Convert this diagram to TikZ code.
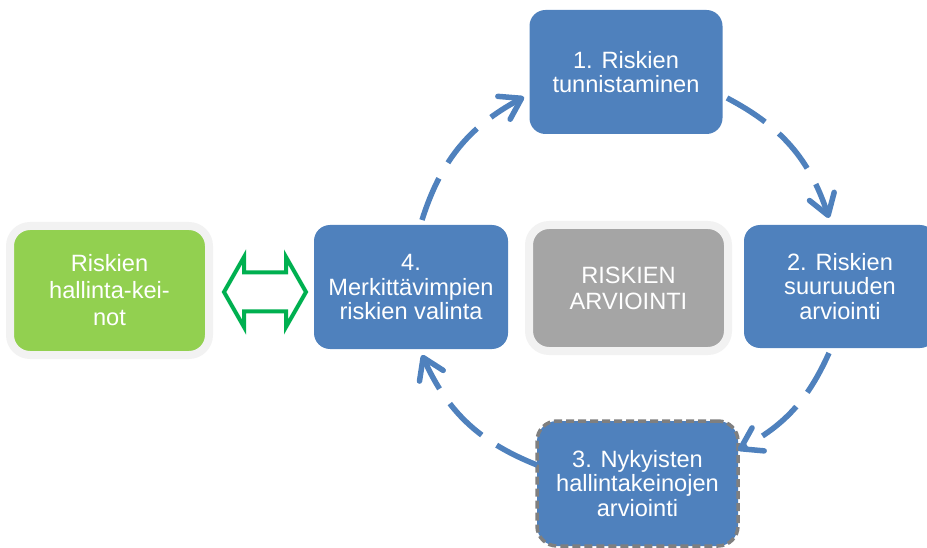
\documentclass[tikz,border=0pt]{standalone}
\usepackage{fontspec}
\setmainfont{Liberation Sans}
\usetikzlibrary{arrows.meta,calc}
\definecolor{boxblue}{HTML}{4F81BD}
\definecolor{boxgray}{HTML}{A5A5A5}
\definecolor{framegray}{HTML}{F2F2F2}
\definecolor{dashgray}{HTML}{7F7F7F}
\definecolor{boxgreen}{HTML}{92D050}
\definecolor{arrowgreen}{HTML}{00B050}
\tikzset{
  stepbox/.style={rectangle, rounded corners=16pt, fill=boxblue, text=white,
    align=center, inner sep=0pt, font=\fontsize{23.6}{24.5}\selectfont},
  framedbox/.style={rectangle, rounded corners=20pt, draw=framegray, line width=8pt,
    align=center, inner sep=0pt, minimum width=199pt},
  cyclearrow/.style={draw=boxblue, line width=5.5pt, dash pattern=on 45pt off 18pt,
    -{Straight Barb[length=20pt,width=26pt,round]}},
}
\begin{document}
\begin{tikzpicture}[x=1pt,y=1pt]
\useasboundingbox (0,0) rectangle (927,-548);
% boxes
\node[stepbox, minimum width=193pt, minimum height=124pt] (b1) at (626,-72) {1. Riskien\\tunnistaminen};
\node[stepbox, minimum width=192pt, minimum height=123pt] (b2) at (840,-286.5) {2. Riskien\\suuruuden\\arviointi};
\node[stepbox, rounded corners=20pt, minimum width=201pt, minimum height=125pt,
      draw=dashgray, line width=3.5pt, dash pattern=on 8pt off 4pt] (b3) at (637.5,-483.5) {3. Nykyisten\\hallintakeinojen\\arviointi};
\node[stepbox, minimum width=194pt, minimum height=124pt] (b4) at (411,-287) {4.\\Merkittävimpien\\riskien valinta};
\node[framedbox, fill=boxgray, text=white, minimum height=126pt,
      font=\fontsize{23.6}{26}\selectfont] (center) at (628.5,-288) {RISKIEN\\ARVIOINTI};
\node[framedbox, fill=boxgreen, text=white, minimum height=129pt,
      font=\fontsize{23.6}{27}\selectfont] (green) at (109.5,-290.5) {Riskien\\hallinta-kei-\\not};
% double arrow between green box and step 4
\coordinate (dc) at (265,-292);
\draw[arrowgreen, line width=4pt, fill=white, line join=miter]
  ([shift={(-41,0)}]dc) -- ([shift={(-21,35)}]dc) -- ([shift={(-21,19.5)}]dc)
  -- ([shift={(21,19.5)}]dc) -- ([shift={(21,35)}]dc) -- ([shift={(41,0)}]dc)
  -- ([shift={(21,-35)}]dc) -- ([shift={(21,-19.5)}]dc) -- ([shift={(-21,-19.5)}]dc)
  -- ([shift={(-21,-35)}]dc) -- cycle;
% cycle arrows
\coordinate (a1s) at (422,-220);
\coordinate (a1e) at (524,-97);
\coordinate (a2s) at (727,-98);
\coordinate (a2e) at (829,-218);
\coordinate (a3s) at (829,-353);
\coordinate (a3e) at (738,-450);
\coordinate (a4s) at (537,-465);
\coordinate (a4e) at (422,-355);
\draw[cyclearrow] (a1s) to[bend left=22] (a1e);
\draw[cyclearrow] (a2s) to[bend left=22] (a2e);
\draw[cyclearrow] (a3s) to[bend left=19] (a3e);
\draw[cyclearrow] (a4s) to[bend left=22] (a4e);
\end{tikzpicture}
\end{document}
